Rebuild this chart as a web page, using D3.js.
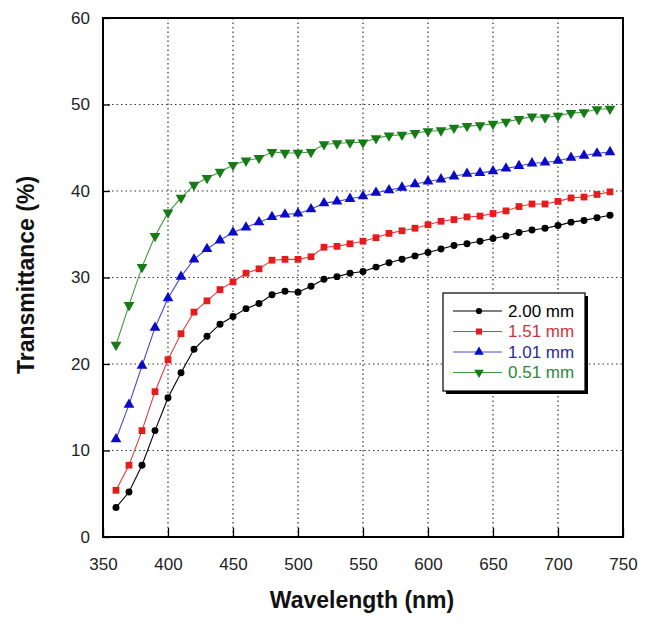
<!DOCTYPE html>
<html>
<head>
<meta charset="utf-8">
<script src="https://cdn.jsdelivr.net/npm/d3@7"></script>
<style>
  body { margin: 0; background: #fff; }
  text { font-family: "Liberation Sans", Arial, sans-serif; }
</style>
</head>
<body>
<div id="chart"></div>
<script>
// wavelengths, 360..740 nm every 10 nm
const wavelength = [360,370,380,390,400,410,420,430,440,450,460,470,480,490,500,510,520,530,540,550,
  560,570,580,590,600,610,620,630,640,650,660,670,680,690,700,710,720,730,740];

const t200 = [3.4,5.2,8.3,12.3,16.1,19.0,21.7,23.2,24.6,25.5,26.4,27.0,28.0,28.4,28.3,29.0,29.8,30.1,30.5,30.7,
  31.2,31.7,32.1,32.5,32.9,33.3,33.7,33.9,34.2,34.5,34.8,35.2,35.5,35.7,36.0,36.4,36.6,36.9,37.2];
const t151 = [5.4,8.3,12.3,16.8,20.5,23.5,26.0,27.3,28.6,29.5,30.5,31.0,32.0,32.1,32.1,32.4,33.5,33.6,33.9,34.2,
  34.6,35.1,35.4,35.7,36.1,36.5,36.7,37.0,37.1,37.4,37.7,38.2,38.5,38.5,38.8,39.2,39.3,39.6,39.9];
const t101 = [11.3,15.3,19.8,24.2,27.6,30.1,32.1,33.3,34.3,35.2,35.8,36.4,37.0,37.3,37.4,37.9,38.6,38.8,39.1,39.4,
  39.8,40.1,40.4,40.8,41.1,41.35,41.7,42.0,42.1,42.3,42.6,42.9,43.2,43.3,43.5,43.85,44.1,44.35,44.5];
const t051 = [22.2,26.8,31.2,34.8,37.5,39.2,40.7,41.5,42.2,43.0,43.5,43.8,44.5,44.4,44.4,44.5,45.4,45.5,45.6,45.6,
  46.1,46.4,46.5,46.7,46.9,47.0,47.3,47.5,47.6,47.75,48.0,48.3,48.6,48.5,48.7,49.0,49.1,49.45,49.5];

const seriesNames = ["2.00 mm", "1.51 mm", "1.01 mm", "0.51 mm"];
const xTicks = [350,400,450,500,550,600,650,700,750];
const yTicks = [0,10,20,30,40,50,60];

const series = [
  { name: seriesNames[0], values: t200, color: "#000000", line: "#000000", text: "#000000", shape: d3.symbolCircle, size: 38, rot: 0 },
  { name: seriesNames[1], values: t151, color: "#e41c1c", line: "#d84040", text: "#d03434", shape: d3.symbolSquare, size: 46, rot: 0 },
  { name: seriesNames[2], values: t101, color: "#0a0ac8", line: "#4a4ac8", text: "#2a2aa0", shape: d3.symbolTriangle, size: 50, rot: 0 },
  { name: seriesNames[3], values: t051, color: "#167a16", line: "#3f9a3f", text: "#2a8a3a", shape: d3.symbolTriangle, size: 50, rot: 180 }
];

const svgWidth = 651, svgHeight = 624;
const margin = { top: 18, right: 28, bottom: 87, left: 103 };
const width = svgWidth - margin.left - margin.right;
const height = svgHeight - margin.top - margin.bottom;

const svg = d3.select("#chart").append("svg")
  .attr("width", svgWidth)
  .attr("height", svgHeight);

const g = svg.append("g")
  .attr("transform", `translate(${margin.left}, ${margin.top})`);

const x = d3.scaleLinear().domain([350, 750]).range([0, width]);
const y = d3.scaleLinear().domain([0, 60]).range([height, 0]);

// dotted grid
g.append("g").selectAll("line")
  .data(xTicks.slice(1, -1))
  .join("line")
  .attr("x1", d => x(d)).attr("x2", d => x(d))
  .attr("y1", 0).attr("y2", height)
  .attr("stroke", "#333").attr("stroke-width", 1.2).attr("stroke-dasharray", "1.5,3");

g.append("g").selectAll("line")
  .data(yTicks.slice(1, -1))
  .join("line")
  .attr("y1", d => y(d)).attr("y2", d => y(d))
  .attr("x1", 0).attr("x2", width)
  .attr("stroke", "#333").attr("stroke-width", 1.2).attr("stroke-dasharray", "1.5,3");

// axes with inward ticks
const bottomAxis = d3.axisBottom(x).tickValues(xTicks).tickSize(-9).tickPadding(21);
const leftAxis = d3.axisLeft(y).tickValues(yTicks).tickSize(-7).tickPadding(13);

const gx = g.append("g").attr("transform", `translate(0, ${height})`).call(bottomAxis);
const gy = g.append("g").call(leftAxis);
[gx, gy].forEach(a => {
  a.select(".domain").remove();
  a.selectAll("line").attr("stroke", "#000").attr("stroke-width", 1.3);
  a.selectAll("text").attr("font-size", 17).attr("fill", "#222");
});

// frame
g.append("rect")
  .attr("width", width).attr("height", height)
  .attr("fill", "none").attr("stroke", "#000").attr("stroke-width", 2);

// series
const line = d3.line()
  .x((d, i) => x(wavelength[i]))
  .y(d => y(d));

series.forEach(s => {
  g.append("path")
    .datum(s.values)
    .attr("fill", "none")
    .attr("stroke", s.line)
    .attr("stroke-width", 1.1)
    .attr("d", line);

  g.append("g").selectAll("path")
    .data(s.values)
    .join("path")
    .attr("d", d3.symbol().type(s.shape).size(s.size))
    .attr("transform", (d, i) => `translate(${x(wavelength[i])}, ${y(d)}) rotate(${s.rot})`)
    .attr("fill", s.color);
});

// legend
const lx = 443 - margin.left, ly = 293 - margin.top, lw = 142, lh = 98;
const legend = g.append("g").attr("transform", `translate(${lx}, ${ly})`);
legend.append("rect")
  .attr("x", 3).attr("y", 3).attr("width", lw).attr("height", lh)
  .attr("fill", "#000");
legend.append("rect")
  .attr("width", lw).attr("height", lh)
  .attr("fill", "#fff").attr("stroke", "#000").attr("stroke-width", 1.2);

series.forEach((s, i) => {
  const row = legend.append("g").attr("transform", `translate(0, ${18 + i * 20.5})`);
  row.append("line")
    .attr("x1", 10).attr("x2", 59)
    .attr("stroke", s.line).attr("stroke-width", 1.1);
  row.append("path")
    .attr("d", d3.symbol().type(s.shape).size(s.size * 0.8))
    .attr("transform", `translate(36, 0) rotate(${s.rot})`)
    .attr("fill", s.color);
  row.append("text")
    .attr("x", 65).attr("dy", "0.35em")
    .attr("font-size", 17)
    .attr("fill", s.text)
    .text(s.name);
});

// axis titles
svg.append("text")
  .attr("x", 362).attr("y", 608)
  .attr("text-anchor", "middle")
  .attr("font-size", 23).attr("font-weight", "bold")
  .attr("fill", "#111")
  .text("Wavelength (nm)");

svg.append("text")
  .attr("transform", "translate(34, 275) rotate(-90)")
  .attr("text-anchor", "middle")
  .attr("font-size", 23).attr("font-weight", "bold")
  .attr("fill", "#111")
  .text("Transmittance (%)");
</script>
</body>
</html>
